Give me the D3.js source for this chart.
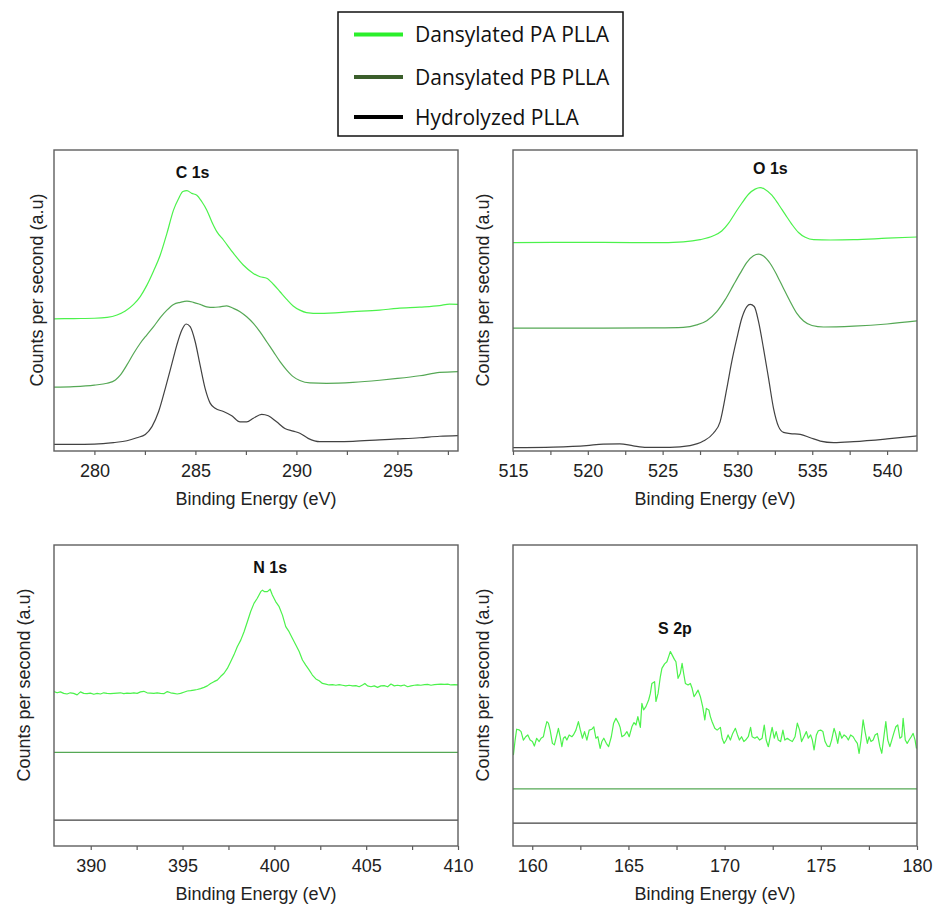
<!DOCTYPE html>
<html>
<head>
<meta charset="utf-8">
<script src="https://cdn.jsdelivr.net/npm/d3@7"></script>
<style>
  html, body { margin: 0; padding: 0; background: #fff; }
  svg { display: block; }
  .tick text { font-family: "Liberation Sans", Arial, sans-serif; font-size: 18px; fill: #222; }
</style>
</head>
<body>
<svg id="chart" width="934" height="905"></svg>
<script>
// XPS survey of the three PLLA surfaces: binding energy (eV) vs counts (a.u.)
const seriesNames = ["Dansylated PA PLLA", "Dansylated PB PLLA", "Hydrolyzed PLLA"];
const regionTitles = ["C 1s", "O 1s", "N 1s", "S 2p"];

// C 1s region
const c1sPA = [[278.0,43.9],[278.98,44.0],[280.0,44.1],[280.63,44.4],[281.12,45.2],[281.53,46.5],[281.94,48.7],[282.27,51.3],[282.6,55.1],[282.93,59.8],[283.26,65.1],[283.59,72.3],[283.92,80.1],[284.17,83.9],[284.38,86.2],[284.58,86.5],[284.82,85.6],[285.07,85.0],[285.32,82.8],[285.56,80.1],[285.81,76.2],[286.06,72.9],[286.39,70.1],[286.88,65.7],[287.37,61.8],[287.87,59.0],[288.2,57.9],[288.53,57.4],[288.86,55.4],[289.19,52.9],[289.52,50.4],[289.84,48.2],[290.17,46.8],[290.5,46.0],[291.16,45.7],[292.8,46.3],[294.12,46.8],[295.0,47.4],[296.1,47.8],[297.09,48.3],[297.58,48.8],[298.0,48.7]];
const c1sPB = [[278.0,21.2],[278.98,21.4],[280.0,21.9],[280.63,22.5],[281.04,23.6],[281.28,25.2],[281.61,28.6],[281.94,32.4],[282.27,35.8],[282.6,38.6],[282.93,41.3],[283.26,44.3],[283.59,46.8],[283.92,48.7],[284.25,49.4],[284.58,49.8],[284.9,49.4],[285.23,48.7],[285.56,47.9],[285.89,47.7],[286.22,47.9],[286.55,48.2],[286.88,47.4],[287.21,46.3],[287.54,44.6],[287.87,42.4],[288.2,39.6],[288.53,36.3],[288.86,33.0],[289.19,29.7],[289.52,26.9],[289.84,24.7],[290.17,23.4],[290.67,22.6],[291.49,22.5],[292.8,22.8],[294.12,23.5],[295.0,24.1],[296.1,25.0],[297.09,26.1],[298.0,26.4]];
const c1sHY = [[278.0,2.2],[278.98,2.2],[280.0,2.3],[280.95,2.8],[281.61,3.4],[282.1,4.4],[282.52,5.5],[282.85,8.1],[283.18,13.1],[283.51,20.8],[283.84,29.1],[284.08,35.2],[284.33,40.2],[284.54,42.2],[284.74,41.3],[284.99,36.3],[285.23,28.6],[285.48,20.8],[285.73,15.9],[285.98,14.2],[286.39,13.1],[286.8,11.7],[287.21,9.7],[287.54,9.7],[287.87,10.9],[288.28,12.2],[288.61,11.7],[289.02,9.7],[289.43,7.5],[289.84,6.6],[290.17,5.9],[290.58,4.2],[291.16,3.1],[291.98,3.1],[292.8,3.2],[294.12,3.7],[295.0,4.0],[296.1,4.4],[297.09,4.9],[298.0,5.1]];

// O 1s region
const o1sPA = [[515.0,69.2],[517.68,69.3],[521.03,69.3],[524.38,69.2],[526.38,69.5],[527.5,70.2],[528.39,71.5],[528.95,73.1],[529.4,75.6],[529.84,79.0],[530.29,82.3],[530.74,85.3],[531.18,87.0],[531.52,87.5],[531.85,86.9],[532.3,85.0],[532.75,81.9],[533.19,78.6],[533.64,75.3],[534.08,72.6],[534.53,71.0],[535.09,70.2],[536.21,70.1],[537.77,70.2],[540.0,70.7],[542.0,71.1]];
const o1sPB = [[515.0,40.8],[517.68,40.8],[521.03,40.8],[524.38,40.9],[526.38,41.1],[527.28,41.9],[527.95,43.3],[528.62,46.3],[529.17,50.2],[529.73,55.1],[530.18,59.0],[530.63,62.7],[531.07,64.9],[531.41,65.4],[531.74,64.8],[532.19,62.3],[532.63,58.5],[533.08,54.0],[533.53,49.6],[533.97,45.7],[534.42,43.2],[534.98,41.7],[535.76,41.2],[537.77,41.5],[540.0,42.2],[542.0,43.2]];
const o1sHY = [[515.0,1.1],[517.68,1.3],[519.91,1.8],[521.03,2.3],[522.14,2.4],[523.04,1.7],[523.93,1.2],[525.49,1.2],[526.83,1.8],[527.72,3.3],[528.39,5.9],[528.84,9.7],[529.29,20.8],[529.62,29.7],[529.96,37.4],[530.29,44.1],[530.63,48.0],[530.85,48.7],[531.12,48.0],[531.41,43.0],[531.74,34.1],[532.08,24.1],[532.41,14.2],[532.75,8.1],[533.08,6.2],[533.53,5.8],[534.2,5.5],[534.87,4.4],[535.54,3.3],[536.43,2.8],[537.77,3.1],[540.0,4.0],[542.0,5.0]];

// N 1s region
const n1sPA = [[388.0,51.3],[388.17,50.9],[388.35,51.2],[388.53,50.7],[388.71,50.5],[388.89,50.9],[389.07,50.7],[389.26,50.2],[389.44,51.2],[389.62,50.7],[389.8,50.6],[389.98,50.8],[390.17,50.4],[390.35,50.7],[390.53,50.5],[390.71,50.9],[390.89,50.7],[391.07,50.6],[391.26,50.7],[391.44,50.8],[391.62,50.9],[391.8,50.6],[391.98,50.8],[392.17,50.7],[392.35,50.9],[392.53,50.7],[392.71,51.2],[392.89,51.4],[393.07,50.9],[393.26,50.8],[393.44,50.7],[393.62,50.9],[393.8,50.7],[393.98,50.6],[394.17,51.3],[394.35,50.9],[394.53,50.7],[394.71,50.5],[394.89,50.7],[395.07,51.1],[395.26,51.5],[395.44,51.6],[395.62,51.8],[395.8,52.0],[395.98,52.3],[396.17,52.7],[396.35,53.2],[396.53,54.0],[396.71,54.6],[396.89,55.1],[397.07,56.3],[397.26,57.4],[397.44,59.0],[397.62,61.2],[397.8,63.5],[397.98,66.2],[398.17,68.4],[398.35,71.2],[398.53,74.5],[398.71,77.9],[398.89,80.6],[399.07,82.3],[399.26,84.5],[399.35,85.0],[399.47,84.5],[399.62,84.5],[399.77,85.3],[399.89,83.4],[400.07,81.2],[400.26,79.5],[400.44,76.7],[400.62,72.9],[400.8,71.2],[400.98,69.0],[401.17,66.8],[401.35,64.6],[401.53,61.8],[401.71,60.1],[401.89,58.5],[402.07,56.8],[402.26,55.5],[402.44,54.9],[402.62,54.0],[402.8,53.8],[402.98,53.5],[403.17,53.6],[403.35,53.4],[403.53,53.6],[403.71,53.4],[403.89,53.2],[404.07,53.4],[404.26,53.2],[404.44,53.3],[404.62,52.9],[404.8,53.5],[404.93,54.0],[405.07,53.2],[405.26,52.9],[405.44,53.2],[405.62,52.7],[405.8,53.2],[405.98,53.3],[406.17,52.9],[406.35,53.8],[406.53,53.2],[406.71,53.4],[406.89,53.2],[407.07,53.5],[407.26,52.9],[407.44,53.2],[407.62,53.4],[407.8,53.5],[407.98,53.4],[408.17,53.6],[408.35,53.7],[408.53,53.4],[408.71,53.6],[408.89,53.7],[409.07,53.8],[409.26,53.7],[409.44,53.8],[409.62,53.5],[409.8,53.6],[410.0,53.5]];
const n1sPB = [[388.0,31.1],[410.0,31.1]];
const n1sHY = [[388.0,8.6],[410.0,8.6]];

// S 2p region
const s2pPA = [[159.02,30.2],[159.11,35.2],[159.19,38.8],[159.31,38.6],[159.42,38.0],[159.54,35.2],[159.66,36.3],[159.77,36.9],[159.89,35.2],[160.01,34.7],[160.11,33.2],[160.23,35.8],[160.36,34.7],[160.46,35.8],[160.58,36.3],[160.67,39.1],[160.76,41.3],[160.84,40.8],[160.93,38.5],[161.05,34.1],[161.15,33.6],[161.28,36.9],[161.36,39.1],[161.45,36.3],[161.54,33.0],[161.62,35.8],[161.71,36.3],[161.8,35.2],[161.92,36.9],[162.06,36.3],[162.14,36.9],[162.27,38.5],[162.4,41.3],[162.49,38.8],[162.61,35.8],[162.72,38.0],[162.84,35.2],[162.96,38.5],[163.1,38.8],[163.2,39.6],[163.31,35.8],[163.41,36.3],[163.53,32.4],[163.62,34.7],[163.72,35.8],[163.85,34.1],[163.97,33.0],[164.11,36.3],[164.23,40.8],[164.35,42.4],[164.49,40.8],[164.57,39.4],[164.66,36.3],[164.8,36.9],[164.92,38.0],[165.04,36.3],[165.18,39.6],[165.29,41.0],[165.39,40.2],[165.49,43.0],[165.62,39.4],[165.7,47.4],[165.79,45.2],[165.91,46.3],[166.05,48.5],[166.14,50.7],[166.22,54.0],[166.36,54.6],[166.43,48.0],[166.54,50.7],[166.66,56.3],[166.74,59.0],[166.88,60.5],[167.0,61.2],[167.09,62.9],[167.18,64.6],[167.27,63.5],[167.39,62.0],[167.47,61.2],[167.58,55.7],[167.7,57.4],[167.79,60.7],[167.87,57.4],[167.96,54.0],[168.1,53.5],[168.22,54.0],[168.31,52.4],[168.41,49.6],[168.52,50.7],[168.62,51.8],[168.74,49.6],[168.86,46.3],[168.97,41.9],[169.05,45.7],[169.18,45.2],[169.26,43.0],[169.35,41.3],[169.49,39.1],[169.61,38.5],[169.78,39.4],[169.87,35.8],[169.97,34.1],[170.08,35.2],[170.18,36.9],[170.3,35.2],[170.42,37.4],[170.56,39.1],[170.67,36.9],[170.77,35.2],[170.88,36.3],[171.0,34.7],[171.09,35.2],[171.23,36.3],[171.35,39.4],[171.43,36.3],[171.57,35.8],[171.69,36.3],[171.82,35.2],[171.95,35.8],[172.06,40.2],[172.16,35.2],[172.27,33.0],[172.39,36.9],[172.47,39.4],[172.58,35.8],[172.68,38.0],[172.79,35.2],[172.91,34.7],[173.03,38.5],[173.13,35.2],[173.26,35.8],[173.38,35.2],[173.52,34.7],[173.66,36.3],[173.78,40.8],[173.9,38.5],[174.0,34.7],[174.12,36.3],[174.25,38.0],[174.35,35.8],[174.47,36.9],[174.56,35.2],[174.65,31.9],[174.77,36.9],[174.87,38.3],[174.99,38.5],[175.11,38.0],[175.22,34.7],[175.34,33.2],[175.46,33.0],[175.56,35.2],[175.69,39.1],[175.77,37.4],[175.88,34.1],[175.98,38.0],[176.09,35.8],[176.21,36.9],[176.33,36.3],[176.43,35.2],[176.55,36.9],[176.68,36.3],[176.78,35.2],[176.9,34.1],[176.99,30.8],[177.09,35.2],[177.2,41.9],[177.3,38.0],[177.42,34.1],[177.51,36.3],[177.61,34.7],[177.72,35.2],[177.82,36.9],[177.94,37.4],[178.07,33.0],[178.17,30.8],[178.29,36.9],[178.38,41.3],[178.48,35.2],[178.59,33.0],[178.69,35.2],[178.79,37.4],[178.9,39.6],[179.0,40.2],[179.11,35.8],[179.21,36.3],[179.28,42.4],[179.39,35.2],[179.49,34.1],[179.59,35.2],[179.7,36.3],[179.8,37.4],[179.9,35.2],[179.97,32.4]];
const s2pPB = [[159.0,19.0],[180.0,19.0]];
const s2pHY = [[159.0,7.6],[180.0,7.6]];

// Axis ranges and tick values for each region
const xDomains = [[278, 298], [515, 542], [388, 410], [159, 180]];
const majorTicks = [[280, 285, 290, 295], [515, 520, 525, 530, 535, 540], [390, 395, 400, 405, 410], [160, 165, 170, 175, 180]];
const minorTicks = [[282.5, 287.5, 292.5, 297.5], [517.5, 522.5, 527.5, 532.5, 537.5], [392.5, 397.5, 402.5, 407.5], [162.5, 167.5, 172.5, 177.5]];
// Where each region label sits, in data units
const titleAnchors = [[284.86, 90.7], [532.2, 92.0], [399.77, 90.7], [167.42, 70.4]];

const regionData = [
  [c1sPA, c1sPB, c1sHY],
  [o1sPA, o1sPB, o1sHY],
  [n1sPA, n1sPB, n1sHY],
  [s2pPA, s2pPB, s2pHY]
];

// ---- drawing ----
const svg = d3.select("#chart");
const lineColors = ["#4cf24c", "#55a855", "#424242"];
const legendColors = ["#2bef2b", "#3b5e2b", "#000000"];
const FONT = "'Liberation Sans', Arial, sans-serif";

const frames = [
  { left: 54,  right: 458, top: 150, bottom: 451, yLabelGap: 11.5, smooth: true },
  { left: 513, right: 917, top: 150, bottom: 451, yLabelGap: 24,   smooth: true },
  { left: 54,  right: 458, top: 545, bottom: 846, yLabelGap: 24,   smooth: false },
  { left: 513, right: 917, top: 545, bottom: 846, yLabelGap: 24,   smooth: false }
];

frames.forEach((f, i) => {
  const x = d3.scaleLinear().domain(xDomains[i]).range([f.left, f.right]);
  const y = d3.scaleLinear().domain([0, 100]).range([f.bottom, f.top]);
  const g = svg.append("g");

  const clipId = "clip" + i;
  svg.append("clipPath").attr("id", clipId)
    .append("rect").attr("x", f.left).attr("y", f.top)
    .attr("width", f.right - f.left).attr("height", f.bottom - f.top);

  const line = d3.line()
    .x(d => x(d[0])).y(d => y(d[1]))
    .curve(f.smooth ? d3.curveMonotoneX : d3.curveLinear);

  const series = regionData[i];
  // draw hydrolyzed first so the green traces stay on top
  [2, 1, 0].forEach(k => {
    g.append("path")
      .datum(series[k])
      .attr("clip-path", `url(#${clipId})`)
      .attr("fill", "none")
      .attr("stroke", lineColors[k])
      .attr("stroke-width", 1.2)
      .attr("stroke-linejoin", "round")
      .attr("d", line);
  });

  // bottom axis: labelled majors plus unlabelled minors, ticks pointing outward
  const majors = new Set(majorTicks[i]);
  const axis = d3.axisBottom(x)
    .tickValues(majorTicks[i].concat(minorTicks[i]).sort((a, b) => a - b))
    .tickFormat(v => majors.has(v) ? d3.format("d")(v) : "")
    .tickSize(4).tickSizeOuter(0).tickPadding(9);
  const ax = g.append("g").attr("transform", `translate(0,${f.bottom})`).call(axis);
  ax.select(".domain").remove();
  ax.selectAll(".tick line").attr("stroke", "#5a5a5a").attr("stroke-width", 1.2);

  // plot frame
  g.append("rect")
    .attr("x", f.left).attr("y", f.top)
    .attr("width", f.right - f.left).attr("height", f.bottom - f.top)
    .attr("fill", "none").attr("stroke", "#5f5f5f").attr("stroke-width", 1.4);

  // axis titles
  g.append("text")
    .attr("x", (f.left + f.right) / 2).attr("y", f.bottom + 54)
    .attr("text-anchor", "middle")
    .style("font-family", FONT).style("font-size", "18px").style("fill", "#222")
    .text("Binding Energy (eV)");

  g.append("text")
    .attr("transform", `translate(${f.left - f.yLabelGap},${f.top + 140}) rotate(-90)`)
    .attr("text-anchor", "middle")
    .style("font-family", FONT).style("font-size", "18px").style("fill", "#222")
    .text("Counts per second (a.u)");

  // region label
  g.append("text")
    .attr("x", x(titleAnchors[i][0])).attr("y", y(titleAnchors[i][1]))
    .attr("text-anchor", "middle")
    .style("font-family", FONT).style("font-size", "16px").style("font-weight", "bold").style("fill", "#111")
    .text(regionTitles[i]);
});

// ---- legend ----
const lg = svg.append("g");
lg.append("rect")
  .attr("x", 338).attr("y", 12).attr("width", 285).attr("height", 124)
  .attr("fill", "#fff").attr("stroke", "#111").attr("stroke-width", 1.5);
const legendRows = [34.5, 77, 117];
seriesNames.forEach((name, k) => {
  lg.append("line")
    .attr("x1", 354).attr("x2", 403)
    .attr("y1", legendRows[k]).attr("y2", legendRows[k])
    .attr("stroke", legendColors[k]).attr("stroke-width", 4.2);
  lg.append("text")
    .attr("x", 415).attr("y", legendRows[k] + 7.5)
    .style("font-family", "'Open Sans', 'Noto Sans', sans-serif").style("font-size", "21px").style("fill", "#111")
    .text(name);
});
</script>
</body>
</html>
